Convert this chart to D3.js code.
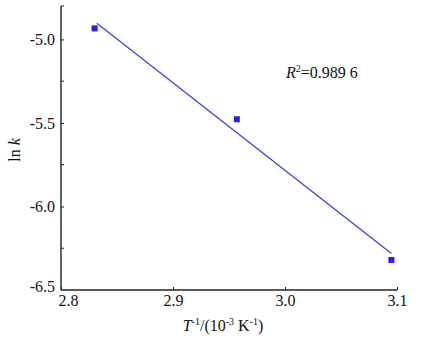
<!DOCTYPE html>
<html>
<head>
  <meta charset="utf-8">
  <script src="https://d3js.org/d3.v7.min.js"></script>
</head>
<body style="margin:0">
<script>
  // data
  var invT = [2.830, 2.957, 3.095];
  var lnK = [-4.934, -5.478, -6.320];
  var fitRange = [2.832, 3.095];
  var xTicks = [2.8, 2.9, 3.0, 3.1];
  var yTicks = [-6.5, -6.0, -5.5, -5.0];
  var yMinor = [-6.25, -5.75, -5.25, -4.8];
  var r2Label = "=0.989 6";

  var width = 437, height = 341;
  var serif = "Times New Roman";

  var svg = d3.select("body").append("svg")
      .attr("width", width)
      .attr("height", height);

  var x = d3.scaleLinear().domain([2.8, 3.1]).range([61, 397]);
  var y = d3.scaleLinear().domain([-6.5, -4.8]).range([290, 6]);

  // least squares line from the points
  var mx = d3.mean(invT), my = d3.mean(lnK);
  var sxy = d3.sum(invT, function (d, i) { return (d - mx) * (lnK[i] - my); });
  var sxx = d3.sum(invT, function (d) { return (d - mx) * (d - mx); });
  var slope = sxy / sxx, icpt = my - slope * mx;

  // x axis, ticks pointing in
  var xAxis = svg.append("g")
      .attr("transform", "translate(0,290)")
      .call(d3.axisBottom(x).tickValues(xTicks).tickSize(-3).tickPadding(5)
        .tickFormat(d3.format(".1f")));
  xAxis.attr("font-family", null).attr("font-size", null);
  xAxis.selectAll("text").attr("fill", "#111")
    .attr("dx", function (d) { return d === 2.8 ? 7 : 0; });

  // y axis
  var yAxis = svg.append("g")
      .attr("transform", "translate(61,0)")
      .call(d3.axisLeft(y).tickValues(yTicks).tickSize(-3).tickPadding(6)
        .tickFormat(d3.format(".1f")));
  yAxis.attr("font-family", null).attr("font-size", null);
  yAxis.selectAll("text").attr("fill", "#111")
    .attr("dy", function (d) { return d === -6.5 ? "0.1em" : "0.32em"; })
    .text(function (d) { return d3.format(".1f")(d).replace("−", "-"); });
  yAxis.selectAll(".tick").filter(function (d) { return d === -6.5; })
    .select("line").remove();

  yAxis.selectAll(".minor")
    .data(yMinor)
    .enter().append("line")
      .attr("x1", 0).attr("x2", 3)
      .attr("y1", function (d) { return y(d); })
      .attr("y2", function (d) { return y(d); })
      .attr("stroke", "#222");

  svg.selectAll(".domain").attr("stroke", "#222").attr("stroke-width", 1.4);
  svg.selectAll(".tick line").attr("stroke", "#222");
  xAxis.select(".domain").attr("d", "M61,0H397");
  yAxis.select(".domain").attr("d", "M0,290V6");

  // fit line
  svg.append("line")
      .attr("x1", x(fitRange[0])).attr("y1", y(slope * fitRange[0] + icpt))
      .attr("x2", x(fitRange[1])).attr("y2", y(slope * fitRange[1] + icpt))
      .attr("stroke", "#3a3ae0")
      .attr("stroke-width", 1.2);

  // points
  svg.selectAll(".pt")
    .data(invT)
    .enter().append("rect")
      .attr("x", function (d) { return x(d) - 3; })
      .attr("y", function (d, i) { return y(lnK[i]) - 3; })
      .attr("width", 6).attr("height", 6)
      .attr("fill", "#2a18ff");

  // R squared
  var r2 = svg.append("text")
      .attr("x", 286).attr("y", 78)
      .attr("fill", "#111");
  r2.append("tspan").style("font-style", "italic").text("R");
  r2.append("tspan").attr("dy", -6).attr("class", "sup").text("2");
  r2.append("tspan").attr("dy", 6).text(r2Label);

  // axis titles
  var xt = svg.append("text")
      .attr("x", 223).attr("y", 331)
      .attr("text-anchor", "middle")
      .attr("fill", "#111");
  xt.append("tspan").style("font-style", "italic").text("T");
  xt.append("tspan").attr("dy", -6).attr("class", "sup").text("-1");
  xt.append("tspan").attr("dy", 6).text("/(10");
  xt.append("tspan").attr("dy", -6).attr("class", "sup").text("-3");
  xt.append("tspan").attr("dy", 6).text(" K");
  xt.append("tspan").attr("dy", -6).attr("class", "sup").text("-1");
  xt.append("tspan").attr("dy", 6).text(")");

  var yt = svg.append("text")
      .attr("transform", "translate(20,150) rotate(-90)")
      .attr("text-anchor", "middle")
      .attr("fill", "#111");
  yt.append("tspan").text("ln ");
  yt.append("tspan").style("font-style", "italic").text("k");

  svg.selectAll("text")
      .style("font-family", serif)
      .style("font-size", "16px");
  svg.selectAll("tspan.sup").style("font-size", "10px");
</script>
</body>
</html>
